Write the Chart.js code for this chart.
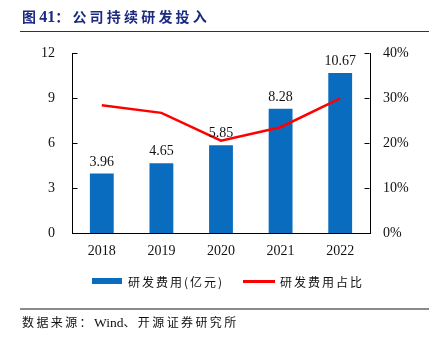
<!DOCTYPE html>
<html>
<head>
<meta charset="utf-8">
<script src="https://cdn.jsdelivr.net/npm/chart.js@4/dist/chart.umd.min.js"></script>
<style>
  html, body { margin: 0; padding: 0; background: #fff; }
  #wrap { position: relative; width: 429px; height: 338px; overflow: hidden; }
  #c { position: absolute; left: 0; top: 0; }
  .title { position: absolute; left: 22px; top: 6px; font-family: "Noto Sans CJK SC", sans-serif; font-weight: bold; font-size: 14px; letter-spacing: 3.2px; color: #1c2a80; white-space: nowrap; }
  .title .num { font-family: "Liberation Serif", serif; font-size: 16px; letter-spacing: 0; }
  .hline1 { position: absolute; left: 20px; right: 0; top: 31px; height: 1px; background: #333; }
  .hline2 { position: absolute; left: 20px; right: 0; top: 308px; height: 2px; background: #8a8a8a; }
  .footer { position: absolute; left: 22px; top: 313px; font-family: "Noto Sans CJK SC", sans-serif; font-size: 12px; letter-spacing: 2.4px; color: #111; white-space: nowrap; }
  .footer .lat { font-family: "Liberation Serif", serif; font-size: 13.5px; letter-spacing: 0; }
  .legend { position: absolute; top: 273px; font-family: "Noto Sans CJK SC", sans-serif; font-size: 12px; letter-spacing: 2px; color: #111; white-space: nowrap; }
  .sw1 { position: absolute; left: 92px; top: 278px; width: 30px; height: 6px; background: #0a6cbf; }
  .sw2 { position: absolute; left: 243px; top: 280px; width: 32px; height: 3px; background: #ff0000; }
</style>
</head>
<body>
<div id="wrap">
  <canvas id="c" width="429" height="338"></canvas>
  <div class="title">图<span class="num">41</span>：公司持续研发投入</div>
  <div class="hline1"></div>
  <div class="sw1"></div>
  <div class="legend" style="left:128px">研发费用(亿元)</div>
  <div class="sw2"></div>
  <div class="legend" style="left:280px">研发费用占比</div>
  <div class="hline2"></div>
  <div class="footer">数据来源：<span class="lat">Wind</span>、开源证券研究所</div>
</div>
<script>
const categories = ['2018', '2019', '2020', '2021', '2022'];
const rdExpense = [3.96, 4.65, 5.85, 8.28, 10.67];
const rdRatio = [28.4, 26.7, 20.5, 23.5, 29.9];
const leftTicks = [0, 3, 6, 9, 12];
const rightTicks = [0, 10, 20, 30, 40];

const serif = "'Liberation Serif', 'Times New Roman', serif";

const barLabels = {
  id: 'barLabels',
  afterDatasetsDraw(chart) {
    const ctx = chart.ctx;
    const meta = chart.getDatasetMeta(0);
    ctx.save();
    ctx.font = '14px ' + serif;
    ctx.fillStyle = '#111';
    ctx.textAlign = 'center';
    ctx.textBaseline = 'alphabetic';
    meta.data.forEach((el, i) => {
      ctx.fillText(rdExpense[i].toFixed(2), el.x, el.y - 8);
    });
    ctx.restore();
  }
};

const innerTicks = {
  id: 'innerTicks',
  afterDraw(chart) {
    const ctx = chart.ctx;
    ctx.save();
    ctx.strokeStyle = '#000';
    ctx.lineWidth = 1;
    const yl = chart.scales.y, yr = chart.scales.y1;
    const xl = Math.round(chart.chartArea.left) + 0.5;
    const xr = Math.round(chart.chartArea.right) - 0.5;
    yl.ticks.forEach(t => {
      const p = Math.round(yl.getPixelForValue(t.value)) + 0.5;
      ctx.beginPath(); ctx.moveTo(xl, p); ctx.lineTo(xl + 5, p); ctx.stroke();
    });
    yr.ticks.forEach(t => {
      const p = Math.round(yr.getPixelForValue(t.value)) + 0.5;
      ctx.beginPath(); ctx.moveTo(xr, p); ctx.lineTo(xr - 5, p); ctx.stroke();
    });
    ctx.restore();
  }
};

new Chart(document.getElementById('c'), {
  data: {
    labels: categories,
    datasets: [
      {
        type: 'bar',
        label: '研发费用(亿元)',
        data: rdExpense,
        backgroundColor: '#0a6cbf',
        borderWidth: 0,
        categoryPercentage: 1,
        barPercentage: 0.4,
        yAxisID: 'y',
        order: 1
      },
      {
        type: 'line',
        label: '研发费用占比',
        data: rdRatio,
        borderColor: '#ff0000',
        backgroundColor: '#ff0000',
        borderWidth: 2.5,
        pointRadius: 0,
        tension: 0,
        yAxisID: 'y1',
        order: 0
      }
    ]
  },
  options: {
    responsive: false,
    animation: false,
    events: [],
    layout: { padding: { left: 0, right: 0, top: 53, bottom: 75 } },
    plugins: { legend: { display: false }, tooltip: { enabled: false } },
    scales: {
      x: {
        offset: true,
        grid: { display: false, drawTicks: false },
        border: { display: true, color: '#000', width: 1 },
        ticks: { font: { family: serif, size: 14 }, color: '#111', padding: 10 },
        afterFit(s) { s.height = 30; }
      },
      y: {
        position: 'left',
        min: 0, max: 12,
        afterBuildTicks(s) { s.ticks = leftTicks.map(v => ({ value: v })); },
        grid: { display: false, drawTicks: false },
        border: { display: true, color: '#000', width: 1 },
        ticks: { font: { family: serif, size: 14 }, color: '#111', padding: 17 },
        afterFit(s) { s.width = 72; }
      },
      y1: {
        position: 'right',
        min: 0, max: 40,
        afterBuildTicks(s) { s.ticks = rightTicks.map(v => ({ value: v })); },
        grid: { display: false, drawTicks: false },
        border: { display: true, color: '#000', width: 1 },
        ticks: { font: { family: serif, size: 14 }, color: '#111', padding: 13, callback: v => v + '%' },
        afterFit(s) { s.width = 59; }
      }
    }
  },
  plugins: [barLabels, innerTicks]
});
</script>
</body>
</html>
